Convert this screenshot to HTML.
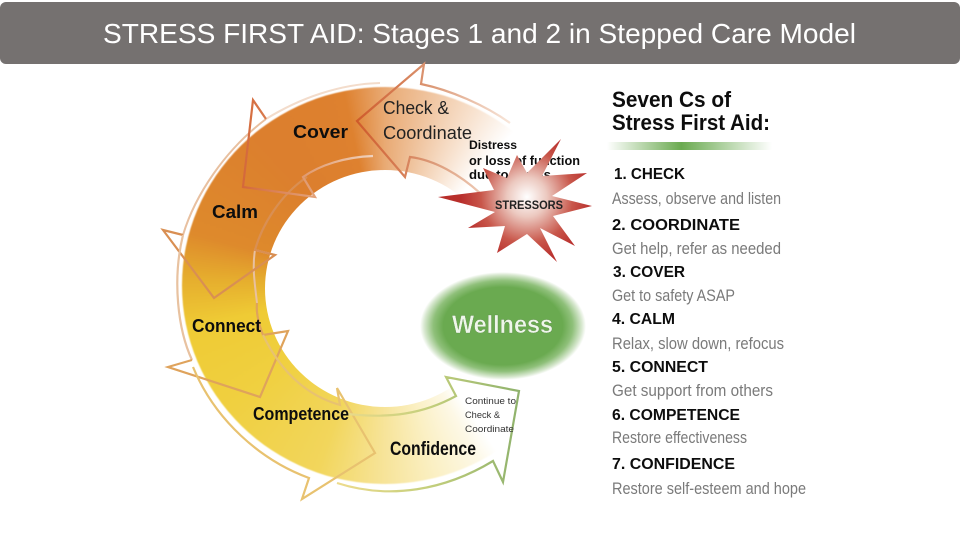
<!DOCTYPE html>
<html><head><meta charset="utf-8"><style>
html,body{margin:0;padding:0;background:#fff}
#p{position:relative;width:960px;height:540px;overflow:hidden;background:#fff;font-family:"Liberation Sans",sans-serif}
#ring{position:absolute;left:182px;top:87px;width:406px;height:397px;border-radius:50%;
background:conic-gradient(from 0deg,#e9aa74 0deg,#f0c6a2 14deg,#f8e2cf 27deg,#fff 40deg,#fff 146deg,#fdf8e6 152deg,#fbf0c4 165deg,#f7e49a 180deg,#f2d65c 200deg,#f0d040 232deg,#efcb35 258deg,#e6ae2e 272deg,#de8a2c 285deg,#dc7f2e 320deg,#de812f 348deg,#e9aa74 360deg);filter:blur(.4px)}
#hole{position:absolute;left:265px;top:170px;width:240px;height:237px;border-radius:50%;background:#fff}
#well{position:absolute;left:420px;top:272px;width:166px;height:108px;border-radius:50%;background:radial-gradient(closest-side,#6aaa50 0,#6aaa50 72%,#8fc07a 84%,#d8e8d0 95%,#fff 100%)}
svg{position:absolute;left:0;top:0}
</style></head><body><div id="p">
<div id="ring"></div><div id="hole"></div><div id="well"></div>
<svg width="960" height="540" viewBox="0 0 960 540">
<defs>
<linearGradient id="f1" gradientUnits="userSpaceOnUse" x1="357" y1="0" x2="510" y2="0"><stop offset="0" stop-color="#cf5a2a"/><stop offset=".5" stop-color="#dc9a78"/><stop offset="1" stop-color="#f8e6da"/></linearGradient>
<linearGradient id="f2" gradientUnits="userSpaceOnUse" x1="243" y1="0" x2="385" y2="0"><stop offset="0" stop-color="#d4683a"/><stop offset=".5" stop-color="#e2a27a"/><stop offset="1" stop-color="#f3dccb"/></linearGradient>
<linearGradient id="f6" gradientUnits="userSpaceOnUse" x1="340" y1="0" x2="519" y2="0"><stop offset="0" stop-color="#ecdb8c"/><stop offset=".5" stop-color="#c4cf7c"/><stop offset="1" stop-color="#8fb26c"/></linearGradient>
<linearGradient id="bar" x1="0" x2="1" y1="0" y2="0"><stop offset="0" stop-color="#fff"/><stop offset=".45" stop-color="#6aaa50"/><stop offset="1" stop-color="#fff"/></linearGradient>
<radialGradient id="st" gradientUnits="userSpaceOnUse" cx="527" cy="197" r="66"><stop offset="0" stop-color="#fff"/><stop offset=".3" stop-color="#ecc9c0"/><stop offset=".7" stop-color="#c8564a"/><stop offset="1" stop-color="#b82e2c"/></radialGradient>
<filter id="b" x="-5%" y="-5%" width="110%" height="110%"><feGaussianBlur stdDeviation=".3"/></filter>
</defs>
<rect x="0" y="2" width="960" height="62" rx="6" fill="#757170"/>
<text x="103" y="43" font-size="28" fill="#fff" textLength="753" lengthAdjust="spacingAndGlyphs">STRESS FIRST AID: Stages 1 and 2 in Stepped Care Model</text>
<g fill="none" stroke-width="2.2" stroke-linejoin="miter" filter="url(#b)">
<path d="M257 303C255 285 252 268 255 250L275 255M183 235C195 195 225 150 266 119" stroke="#e8c0a0" stroke-width="2"/>
<path d="M266 119C300 98 340 84 380 83" stroke="#f3dccb" stroke-width="2"/>
<path d="M183 235L163 230L214 298L275 255L255 250C262 225 280 195 307 177" stroke="#d98f52"/>
<path d="M510 123C485 105 450 90 421 84L424 64L357 121L405 177L410 157C435 160 460 175 480 193" stroke="url(#f1)"/>
<path d="M266 119L253 100L243 187L315 197L303 177C320 165 345 157 373 156" stroke="url(#f2)"/>
<path d="M192 360C178 330 172 280 183 235" stroke="#e8c2a0"/>
<path d="M192 360L168 367L260 397L288 331L263 335C258 322 256 312 257 303" stroke="#dfa35c"/>
<path d="M193 367C215 420 260 460 309 478L302 499L375 453L337 388L340 405C305 395 280 370 263 335" stroke="#e8c270"/>
<path d="M337 483C390 500 445 490 493 461L503 482L519 391L446 377L456 396C425 413 390 420 340 413" stroke="url(#f6)"/>
</g>
<g filter="url(#b)">
<g font-weight="bold" fill="#111">
<text x="293" y="138" font-size="18" textLength="55" lengthAdjust="spacingAndGlyphs">Cover</text>
<text x="212" y="218" font-size="18" textLength="46" lengthAdjust="spacingAndGlyphs">Calm</text>
<text x="192" y="332" font-size="18" textLength="69" lengthAdjust="spacingAndGlyphs">Connect</text>
<text x="253" y="420" font-size="18" textLength="96" lengthAdjust="spacingAndGlyphs">Competence</text>
<text x="390" y="455" font-size="19" textLength="86" lengthAdjust="spacingAndGlyphs">Confidence</text>
<text x="469" y="149" font-size="12" textLength="48" lengthAdjust="spacingAndGlyphs">Distress</text>
<text x="469" y="165" font-size="13" textLength="111" lengthAdjust="spacingAndGlyphs">or loss of function</text>
<text x="469" y="179" font-size="13" textLength="82" lengthAdjust="spacingAndGlyphs">due to stress</text>
</g>
<g fill="#222">
<text x="383" y="114" font-size="18" textLength="66" lengthAdjust="spacingAndGlyphs">Check &amp;</text>
<text x="383" y="139" font-size="18" textLength="89" lengthAdjust="spacingAndGlyphs">Coordinate</text>
</g>
<polygon points="561,139 542,176 587,173 552,196 592,206 553,216 575,246 540,228 557,262 527,234 497,253 505,226 468,228 495,212 438,197 494,190 483,168 507,178 517,155 527,173" fill="url(#st)"/>
<text x="495" y="209" font-size="12" font-weight="bold" fill="#222" textLength="68" lengthAdjust="spacingAndGlyphs">STRESSORS</text>
<text x="452" y="333" font-size="25" font-weight="bold" fill="#eef6ea" stroke="#4d7d3a" stroke-width=".3" textLength="101" lengthAdjust="spacingAndGlyphs">Wellness</text>
<g font-size="9.5" fill="#333">
<text x="465" y="404" textLength="51" lengthAdjust="spacingAndGlyphs">Continue to</text>
<text x="465" y="418" textLength="35" lengthAdjust="spacingAndGlyphs">Check &amp;</text>
<text x="465" y="432" textLength="49" lengthAdjust="spacingAndGlyphs">Coordinate</text>
</g>
<g font-weight="bold" fill="#111">
<text x="612" y="107" font-size="22" textLength="119" lengthAdjust="spacingAndGlyphs">Seven Cs of</text>
<text x="612" y="130" font-size="22" textLength="158" lengthAdjust="spacingAndGlyphs">Stress First Aid:</text>
</g>
<rect x="607" y="142" width="165" height="8" fill="url(#bar)"/>
<g font-size="16" font-weight="bold" fill="#111">
<text x="614" y="179" textLength="71" lengthAdjust="spacingAndGlyphs">1. CHECK</text>
<text x="612" y="230" textLength="128" lengthAdjust="spacingAndGlyphs">2. COORDINATE</text>
<text x="613" y="277" textLength="72" lengthAdjust="spacingAndGlyphs">3. COVER</text>
<text x="612" y="324" textLength="63" lengthAdjust="spacingAndGlyphs">4. CALM</text>
<text x="612" y="372" textLength="96" lengthAdjust="spacingAndGlyphs">5. CONNECT</text>
<text x="612" y="420" textLength="128" lengthAdjust="spacingAndGlyphs">6. COMPETENCE</text>
<text x="612" y="469" textLength="123" lengthAdjust="spacingAndGlyphs">7. CONFIDENCE</text>
</g>
<g font-size="17" fill="#7a7a7a">
<text x="612" y="204" textLength="169" lengthAdjust="spacingAndGlyphs">Assess, observe and listen</text>
<text x="612" y="254" textLength="169" lengthAdjust="spacingAndGlyphs">Get help, refer as needed</text>
<text x="612" y="301" textLength="123" lengthAdjust="spacingAndGlyphs">Get to safety ASAP</text>
<text x="612" y="349" textLength="172" lengthAdjust="spacingAndGlyphs">Relax, slow down, refocus</text>
<text x="612" y="396" textLength="161" lengthAdjust="spacingAndGlyphs">Get support from others</text>
<text x="612" y="443" textLength="135" lengthAdjust="spacingAndGlyphs">Restore effectiveness</text>
<text x="612" y="494" textLength="194" lengthAdjust="spacingAndGlyphs">Restore self-esteem and hope</text>
</g>
</g>
</svg>
</div></body></html>
